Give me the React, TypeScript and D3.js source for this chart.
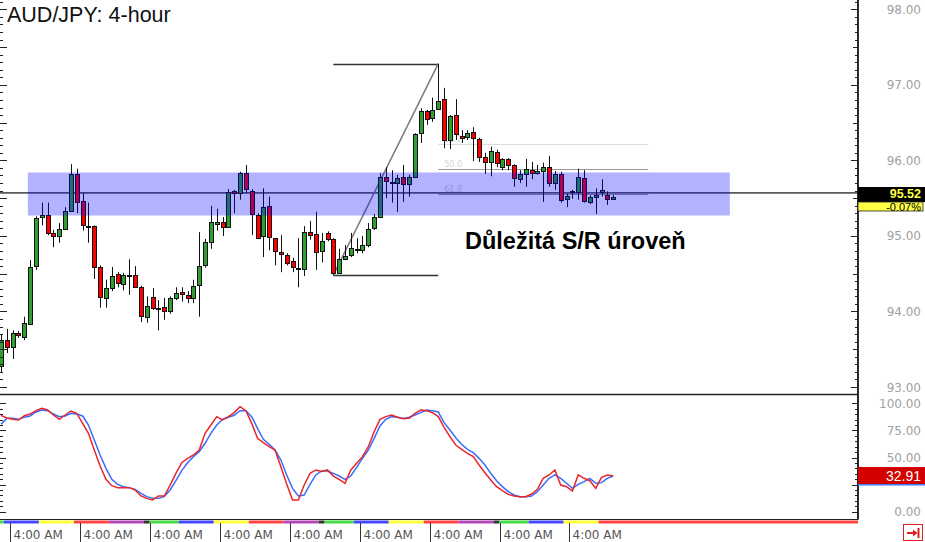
import React, { useEffect, useRef } from "react";
import * as d3 from "d3";

// 4-hour candles (oldest first)
const opens = [
  93.27, 93.62, 93.52, 93.71, 93.66, 93.83, 94.6, 95.25, 95.28, 95.04,
  95.0, 95.09, 95.33, 95.82, 95.46, 95.13, 95.13, 94.59, 94.18, 94.31,
  94.5, 94.36, 94.48, 94.48, 94.32, 93.93, 94.19, 94.05, 94.06, 94.01,
  94.18, 94.26, 94.22, 94.18, 94.35, 94.61, 94.92, 95.17, 95.18, 95.12,
  95.59, 95.57, 95.83, 95.59, 95.28, 94.99, 95.4, 94.97, 94.79, 94.75,
  94.67, 94.58, 94.56, 95.05, 95.03, 94.8, 95.04, 94.96, 94.51, 94.69,
  94.75, 94.82, 94.81, 94.88, 95.11, 95.25, 95.78, 95.72, 95.71, 95.78,
  95.69, 95.78, 96.36, 96.65, 96.56, 96.69, 96.81, 96.27, 96.6, 96.32,
  96.31, 96.38, 96.28, 96.04, 95.98, 96.11, 95.91, 96.02, 95.94, 95.75,
  95.83, 95.87, 95.84, 95.86, 95.91, 95.7, 95.82, 95.49, 95.58, 95.58,
  95.77, 95.46, 95.52, 95.58, 95.54, 95.5,
];
const highs = [
  93.69, 93.77, 93.75, 93.74, 93.93, 94.68, 95.26, 95.44, 95.44, 95.08,
  95.17, 95.38, 95.95, 95.89, 95.57, 95.44, 95.14, 94.61, 94.42, 94.59,
  94.52, 94.51, 94.69, 94.6, 94.34, 94.2, 94.31, 94.15, 94.18, 94.2,
  94.32, 94.32, 94.27, 94.42, 95.05, 94.96, 95.4, 95.36, 95.25, 95.62,
  95.61, 95.85, 95.94, 95.62, 95.3, 95.63, 95.52, 94.97, 95.01, 94.77,
  94.71, 94.97, 95.13, 95.2, 95.32, 95.04, 95.06, 94.97, 94.83, 94.88,
  95.04, 94.97, 95.0, 95.17, 95.29, 95.83, 95.91, 95.87, 95.81, 95.94,
  95.81, 96.36, 96.69, 96.67, 96.83, 97.28, 96.96, 96.6, 96.81, 96.4,
  96.4, 96.44, 96.3, 96.1, 96.18, 96.14, 96.03, 96.03, 95.95, 95.87,
  96.02, 95.98, 95.94, 95.97, 96.06, 95.86, 95.85, 95.56, 95.61, 95.89,
  95.87, 95.54, 95.63, 95.75, 95.59, 95.54,
];
const lows = [
  93.2, 93.45, 93.37, 93.65, 93.62, 93.82, 94.55, 95.14, 95.01, 94.85,
  94.91, 95.08, 95.32, 95.3, 95.07, 94.91, 94.43, 94.05, 94.05, 94.27,
  94.32, 94.28, 94.22, 94.31, 93.86, 93.85, 94.02, 93.75, 93.89, 93.97,
  94.15, 94.13, 94.11, 94.11, 93.93, 94.58, 94.83, 95.07, 95.0, 95.11,
  95.3, 95.48, 95.57, 95.01, 94.96, 94.72, 94.81, 94.61, 94.52, 94.61,
  94.52, 94.32, 94.47, 94.95, 94.55, 94.65, 94.93, 94.48, 94.5, 94.68,
  94.72, 94.77, 94.77, 94.85, 95.08, 95.24, 95.5, 95.44, 95.32, 95.45,
  95.52, 95.77, 96.23, 96.47, 96.51, 96.67, 96.16, 96.15, 96.27, 96.23,
  96.27, 95.99, 95.98, 95.82, 95.79, 95.91, 95.87, 95.87, 95.65, 95.7,
  95.65, 95.75, 95.81, 95.45, 95.65, 95.61, 95.44, 95.38, 95.49, 95.48,
  95.44, 95.42, 95.29, 95.52, 95.41, 95.48,
];
const closes = [
  93.62, 93.53, 93.71, 93.68, 93.85, 94.59, 95.24, 95.28, 95.04, 95.0,
  95.09, 95.33, 95.82, 95.45, 95.14, 95.12, 94.59, 94.19, 94.31, 94.47,
  94.38, 94.48, 94.47, 94.32, 93.93, 94.07, 94.05, 94.04, 94.01, 94.18,
  94.24, 94.23, 94.18, 94.34, 94.6, 94.92, 95.18, 95.19, 95.12, 95.58,
  95.57, 95.83, 95.62, 95.28, 94.97, 95.38, 94.99, 94.8, 94.76, 94.65,
  94.59, 94.57, 95.05, 95.01, 94.79, 94.93, 94.96, 94.51, 94.69, 94.73,
  94.84, 94.83, 94.88, 95.09, 95.25, 95.78, 95.73, 95.71, 95.77, 95.69,
  95.78, 96.35, 96.65, 96.55, 96.67, 96.79, 96.27, 96.59, 96.35, 96.3,
  96.36, 96.3, 96.04, 95.98, 96.12, 95.97, 96.02, 95.94, 95.77, 95.82,
  95.89, 95.83, 95.86, 95.91, 95.7, 95.82, 95.48, 95.53, 95.59, 95.78,
  95.46, 95.52, 95.54, 95.61, 95.49, 95.52,
];

// slow stochastic, %K (red) and %D (blue)
const stochK = [
  88.9, 86.4, 85.2, 84.6, 88.6, 90.1, 93.2, 95.4, 93.8, 89.2,
  85.2, 89.2, 92.9, 90.7, 81.5, 72.3, 56.9, 42.2, 29.9, 24.0,
  22.2, 22.2, 22.2, 20.0, 14.5, 12.3, 10.8, 14.5, 14.5, 24.6,
  35.4, 45.2, 49.2, 52.3, 56.9, 72.3, 80.0, 87.7, 84.6, 87.7,
  91.4, 96.9, 93.2, 81.5, 67.7, 63.7, 60.0, 56.9, 41.5, 25.6,
  10.8, 10.8, 24.6, 35.4, 38.5, 37.0, 38.5, 32.9, 29.9, 26.2,
  38.5, 44.6, 50.8, 60.0, 73.8, 85.2, 87.7, 89.2, 87.1, 85.8,
  86.1, 90.7, 93.8, 93.2, 91.4, 87.7, 77.8, 69.2, 61.5, 57.5,
  53.8, 50.8, 43.1, 36.0, 29.2, 23.1, 19.4, 16.0, 14.5, 13.9,
  13.9, 16.3, 20.6, 30.8, 33.9, 38.5, 24.6, 23.1, 19.1, 33.9,
  30.8, 28.6, 21.5, 31.7, 33.9, 32.91,
];
const stochD = [
  80.6, 86.1, 86.1, 85.2, 87.1, 88.3, 92.0, 93.8, 93.2, 90.1,
  87.7, 88.3, 90.7, 90.1, 88.3, 80.0, 66.2, 52.3, 40.0, 29.9,
  25.2, 23.1, 22.2, 20.6, 16.9, 13.9, 12.3, 12.3, 13.9, 20.0,
  28.6, 37.9, 45.2, 50.8, 55.4, 63.1, 72.3, 80.0, 85.2, 87.1,
  88.9, 93.2, 93.2, 87.7, 76.9, 66.8, 62.2, 56.9, 47.7, 33.9,
  21.5, 14.5, 15.4, 25.2, 33.9, 37.6, 37.6, 35.4, 32.9, 29.9,
  32.9, 40.9, 49.2, 56.9, 67.7, 79.1, 85.2, 87.7, 87.1, 86.1,
  87.1, 89.2, 91.4, 93.8, 93.2, 92.0, 82.1, 75.4, 68.3, 62.2,
  57.5, 54.5, 49.2, 43.1, 35.4, 28.6, 23.1, 18.5, 15.4, 13.9,
  13.9, 14.5, 18.5, 24.6, 30.8, 33.9, 30.8, 26.2, 21.5, 25.2,
  27.7, 30.8, 26.2, 26.8, 30.8, 32.9,
];

const priceTicks = [93, 94, 95, 96, 97, 98];
const stochTicks = [0, 50, 75, 100]; // 25.00 sits under the value tag

// session bar under the chart: one colour per day, candles per day
const dayColors = [
  "#44dd44", "#4646ff", "#ffff3c", "#ff4444", "#b446b8", "#333333",
  "#44dd44", "#4646ff", "#ffff3c", "#ff4444", "#b446b8", "#333333",
  "#44dd44", "#4646ff", "#ffff3c", "#ff4444", "#b446b8", "#333333",
  "#44dd44", "#4646ff", "#ffff3c", "#ff4444",
];
const dayCandles = [1, 6, 6, 6, 6, 1, 5, 6, 6, 6, 6, 1, 5, 6, 6, 6, 6, 1, 5, 6, 6, 3];

const timeLabelIdx = [2, 14, 26, 38, 50, 62, 74, 86, 98];
const timeLabel = "4:00 AM";

// drawings
const zone = { from: 4.6, to: 125, top: 95.84, bottom: 95.27 };
const srLine = 95.57;
const swingLowIdx = 57;
const swingHighIdx = 75;
const fibLevels = [0.382, 0.5, 0.618];
const fibEndIdx = 111;
const lastPrice = "95.52";
const lastChange = "-0.07%";
const lastStoch = "32.91";

const AXIS_X = 858;
const MAIN_BOTTOM = 394.5;
const OSC_BOTTOM = 519.5;

export default function App() {
  const svgRef = useRef<SVGSVGElement>(null);

  useEffect(() => {
    const svg = d3.select(svgRef.current);
    svg.selectAll("*").remove();

    const n = opens.length;
    const x = d3.scaleLinear().domain([0, n - 1]).range([1, 613.2]);
    const y = d3.scaleLinear().domain([93, 98]).range([387, 9.3]);
    const ys = d3.scaleLinear().domain([0, 100]).range([511.7, 403.3]);

    svg.append("rect").attr("width", 925).attr("height", 542).attr("fill", "#fff");

    const main = svg.append("g");

    // support / resistance line (under the zone)
    main.append("line")
      .attr("x1", 0).attr("x2", AXIS_X)
      .attr("y1", y(srLine)).attr("y2", y(srLine))
      .attr("stroke", "#5a5a5a").attr("stroke-width", 1.6);

    // fibonacci levels
    const hi = highs[swingHighIdx];
    const lo = lows[swingLowIdx];
    fibLevels.forEach((f, i) => {
      const yy = Math.round(y(hi - (hi - lo) * f)) + 0.5;
      main.append("line")
        .attr("x1", x(swingHighIdx)).attr("x2", x(fibEndIdx))
        .attr("y1", yy).attr("y2", yy)
        .attr("stroke", i === 0 ? "#dcdcdc" : "#9a9a9a").attr("stroke-width", 1);
      main.append("text")
        .attr("x", x(swingHighIdx) + 6).attr("y", yy - 3)
        .attr("font-family", "DejaVu Sans, sans-serif").attr("font-size", 8)
        .attr("fill", "#d4d4d4")
        .text((f * 100).toFixed(1));
    });

    // swing drawing
    main.append("line")
      .attr("x1", x(swingLowIdx)).attr("x2", x(swingHighIdx))
      .attr("y1", Math.round(y(hi)) + 0.5).attr("y2", Math.round(y(hi)) + 0.5)
      .attr("stroke", "#333").attr("stroke-width", 1.5);
    main.append("line")
      .attr("x1", x(swingLowIdx)).attr("x2", x(swingHighIdx))
      .attr("y1", Math.round(y(lo)) + 0.5).attr("y2", Math.round(y(lo)) + 0.5)
      .attr("stroke", "#333").attr("stroke-width", 1.5);
    main.append("line")
      .attr("x1", x(swingLowIdx)).attr("x2", x(swingHighIdx))
      .attr("y1", y(lo)).attr("y2", y(hi))
      .attr("stroke", "#7a7a7a").attr("stroke-width", 1.5);

    // candles
    const idx = d3.range(n);
    const cx = (i: number) => Math.round(x(i)) + 0.5;
    main.selectAll(".wick").data(idx).enter().append("line")
      .attr("x1", cx).attr("x2", cx)
      .attr("y1", (i) => y(highs[i])).attr("y2", (i) => y(lows[i]))
      .attr("stroke", "#111").attr("stroke-width", 1);
    main.selectAll(".body").data(idx).enter().append("rect")
      .attr("x", (i) => cx(i) - 2)
      .attr("y", (i) => Math.round(y(Math.max(opens[i], closes[i]))) + 0.5)
      .attr("width", 4)
      .attr("height", (i) => Math.max(1, Math.round(Math.abs(y(opens[i]) - y(closes[i])))))
      .attr("fill", (i) => (closes[i] >= opens[i] ? "#2f9f2f" : "#ff0000"))
      .attr("stroke", "#111").attr("stroke-width", 1);

    // S/R zone
    main.append("rect")
      .attr("x", x(zone.from)).attr("y", y(zone.top))
      .attr("width", x(zone.to) - x(zone.from))
      .attr("height", y(zone.bottom) - y(zone.top))
      .attr("fill", "#0000ff").attr("fill-opacity", 0.3);

    // left edge ticks
    d3.range(929, 982).forEach((t) => {
      const yy = Math.round(y(t / 10)) + 0.5;
      if (yy > MAIN_BOTTOM - 2) return;
      main.append("line").attr("x1", 0).attr("x2", t % 5 === 0 ? 7 : 3)
        .attr("y1", yy).attr("y2", yy).attr("stroke", "#222");
    });
    // right price axis ticks
    d3.range(929, 982).forEach((t) => {
      const yy = Math.round(y(t / 10)) + 0.5;
      if (yy > MAIN_BOTTOM - 2) return;
      const len = t % 10 === 0 ? 7 : t % 5 === 0 ? 5 : 3;
      main.append("line").attr("x1", AXIS_X - len).attr("x2", AXIS_X)
        .attr("y1", yy).attr("y2", yy).attr("stroke", "#222");
    });
    main.selectAll(".plab").data(priceTicks).enter().append("text")
      .attr("x", 921).attr("y", (d) => y(d) + 4.5)
      .attr("text-anchor", "end")
      .attr("font-family", "DejaVu Sans, sans-serif").attr("font-size", 12)
      .attr("fill", "#a0a0a0")
      .text((d) => d.toFixed(2));

    // title
    main.append("text")
      .attr("x", 7).attr("y", 21.5)
      .attr("font-family", "Liberation Sans, Arial, sans-serif").attr("font-size", 21.5)
      .attr("fill", "#111").text("AUD/JPY: 4-hour");

    // annotation
    main.append("text")
      .attr("x", 465).attr("y", 248.5)
      .attr("font-family", "Liberation Sans, Arial, sans-serif").attr("font-size", 23.5)
      .attr("font-weight", "bold").attr("fill", "#000")
      .text("Důležitá S/R úroveň");

    // stochastic panel
    const osc = svg.append("g");
    const lineGen = (vals: number[]) =>
      d3.line<number>().x((_, i) => x(i)).y((d) => ys(d))(vals);
    osc.append("path").attr("d", lineGen(stochD))
      .attr("fill", "none").attr("stroke", "#3a6cff").attr("stroke-width", 1.5);
    osc.append("path").attr("d", lineGen(stochK))
      .attr("fill", "none").attr("stroke", "#e8262a").attr("stroke-width", 1.5);

    d3.range(0, 101, 5).forEach((t) => {
      const yy = Math.round(ys(t)) + 0.5;
      const len = t % 25 === 0 ? 6 : 3;
      osc.append("line").attr("x1", 0).attr("x2", len)
        .attr("y1", yy).attr("y2", yy).attr("stroke", "#222");
      osc.append("line").attr("x1", AXIS_X - len).attr("x2", AXIS_X)
        .attr("y1", yy).attr("y2", yy).attr("stroke", "#222");
    });
    osc.selectAll(".slab").data(stochTicks).enter().append("text")
      .attr("x", 921).attr("y", (d) => ys(d) + 4.5)
      .attr("text-anchor", "end")
      .attr("font-family", "DejaVu Sans, sans-serif").attr("font-size", 12)
      .attr("fill", "#a0a0a0")
      .text((d) => d.toFixed(2));

    // panel frames
    svg.append("line").attr("x1", 0).attr("x2", AXIS_X)
      .attr("y1", MAIN_BOTTOM).attr("y2", MAIN_BOTTOM)
      .attr("stroke", "#222").attr("stroke-width", 1.6);
    svg.append("line").attr("x1", 0).attr("x2", AXIS_X)
      .attr("y1", OSC_BOTTOM).attr("y2", OSC_BOTTOM)
      .attr("stroke", "#222").attr("stroke-width", 1.2);
    svg.append("line").attr("x1", AXIS_X).attr("x2", AXIS_X)
      .attr("y1", 0).attr("y2", OSC_BOTTOM)
      .attr("stroke", "#111").attr("stroke-width", 1.8);

    // session colour bar
    let start = 0;
    dayCandles.forEach((cnt, i) => {
      const x0 = i === 0 ? 0 : x(start - 0.5);
      const x1 = i === dayCandles.length - 1 ? AXIS_X : x(start + cnt - 0.5);
      svg.append("rect")
        .attr("x", x0).attr("y", 520.5).attr("width", x1 - x0).attr("height", 3)
        .attr("fill", dayColors[i]);
      start += cnt;
    });

    // time axis
    timeLabelIdx.forEach((i) => {
      const sx = Math.round(x(i - 0.5)) + 0.5;
      svg.append("line").attr("x1", sx).attr("x2", sx)
        .attr("y1", 523).attr("y2", 542).attr("stroke", "#333");
      svg.append("text")
        .attr("x", sx + 3).attr("y", 539)
        .attr("font-family", "DejaVu Sans, sans-serif").attr("font-size", 12)
        .attr("fill", "#555").text(timeLabel);
    });

    // last price tags
    const ty = Math.round(y(+lastPrice));
    svg.append("rect").attr("x", AXIS_X).attr("y", ty - 10).attr("width", 67).attr("height", 15)
      .attr("fill", "#000");
    svg.append("text").attr("x", 921).attr("y", ty + 0.5)
      .attr("text-anchor", "end")
      .attr("font-family", "Liberation Sans, Arial, sans-serif").attr("font-size", 12.5)
      .attr("font-weight", "bold").attr("fill", "#ffff44").text(lastPrice);
    svg.append("rect").attr("x", AXIS_X).attr("y", ty + 5).attr("width", 65).attr("height", 9)
      .attr("fill", "#ffff44").attr("stroke", "#222").attr("stroke-width", 0.8);
    svg.append("text").attr("x", 921).attr("y", ty + 13.5)
      .attr("text-anchor", "end")
      .attr("font-family", "Liberation Sans, Arial, sans-serif").attr("font-size", 11)
      .attr("fill", "#000").text(lastChange);

    const sy = ys(+lastStoch);
    svg.append("rect").attr("x", AXIS_X).attr("y", sy - 9).attr("width", 67).attr("height", 17)
      .attr("fill", "#d40000");
    svg.append("rect").attr("x", AXIS_X).attr("y", sy + 8).attr("width", 67).attr("height", 1.5)
      .attr("fill", "#3a7cff");
    svg.append("text").attr("x", 921).attr("y", sy + 4.5)
      .attr("text-anchor", "end")
      .attr("font-family", "Liberation Sans, Arial, sans-serif").attr("font-size", 14)
      .attr("fill", "#fff").text(lastStoch);

    // scroll-to-end button
    svg.append("rect").attr("x", 903.5).attr("y", 524.5).attr("width", 19).attr("height", 16)
      .attr("fill", "#fff").attr("stroke", "#e02020");
    svg.append("line").attr("x1", 907).attr("x2", 914).attr("y1", 533).attr("y2", 533)
      .attr("stroke", "#e02020").attr("stroke-width", 2);
    svg.append("path").attr("d", "M913,529.5 L917.5,533 L913,536.5 Z").attr("fill", "#e02020");
    svg.append("line").attr("x1", 918.5).attr("x2", 918.5).attr("y1", 528).attr("y2", 538)
      .attr("stroke", "#e02020").attr("stroke-width", 2);
  }, []);

  return (
    <svg
      ref={svgRef}
      width={925}
      height={542}
      style={{ position: "absolute", left: 0, top: 0 }}
    />
  );
}
